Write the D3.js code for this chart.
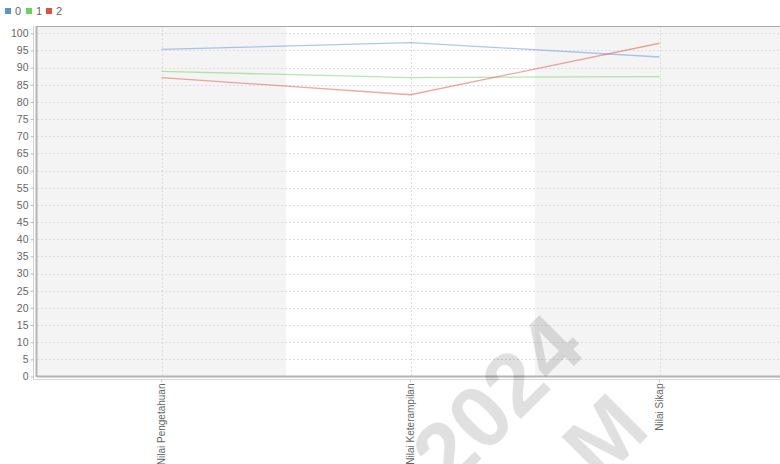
<!DOCTYPE html>
<html>
<head>
<meta charset="utf-8">
<script src="https://cdn.jsdelivr.net/npm/d3@7"></script>
<style>
  html, body { margin: 0; padding: 0; background: #fff; }
  svg { display: block; font-family: "Liberation Sans", Arial, sans-serif; }
</style>
</head>
<body>
<svg id="chart" width="780" height="464"></svg>
<script>
// Categories along the x axis
const categories = ["Nilai Pengetahuan", "Nilai Keterampilan", "Nilai Sikap"];
// Series names shown in the legend
const seriesNames = ["0", "1", "2"];
// Values per series, one per category
const series0 = [95.3, 97.3, 93.1];
const series1 = [88.9, 87.1, 87.4];
const series2 = [87.1, 82.1, 97.1];
// Y axis ticks
const yTicks = d3.range(0, 101, 5);

const allSeries = [series0, series1, series2];
const colors = ["#5a92da", "#6cd15e", "#e0513d"];

const svg = d3.select("#chart");
const plot = { left: 37, top: 26, right: 784, bottom: 376 };

const x = d3.scaleBand().domain(categories).range([plot.left, plot.right]).padding(0);
const y = d3.scaleLinear().domain([0, 100]).range([376.5, 33.3]);

// Legend
const legend = svg.append("g").attr("transform", "translate(5,6)");
const legX = [0, 21, 41];
seriesNames.forEach((n, i) => {
  const g = legend.append("g").attr("transform", `translate(${legX[i]},0)`);
  g.append("rect").attr("x", 0).attr("y", 2).attr("width", 6).attr("height", 6)
    .attr("fill", colors[i]);
  g.append("text").attr("x", 10).attr("y", 8.5).attr("font-size", 11)
    .attr("fill", "#666").text(n);
});

// Plot background with alternating category bands
svg.append("rect").attr("x", plot.left).attr("y", plot.top)
  .attr("width", plot.right - plot.left).attr("height", plot.bottom - plot.top)
  .attr("fill", "#fff");
svg.append("g").selectAll("rect").data(categories).join("rect")
  .attr("x", d => x(d)).attr("y", plot.top)
  .attr("width", x.bandwidth()).attr("height", plot.bottom - plot.top)
  .attr("fill", (d, i) => i % 2 === 0 ? "#f4f4f4" : "#ffffff");

// Horizontal gridlines
svg.append("g").selectAll("line").data(yTicks.filter(t => t > 0)).join("line")
  .attr("x1", plot.left).attr("x2", plot.right)
  .attr("y1", d => Math.round(y(d)) + 0.5).attr("y2", d => Math.round(y(d)) + 0.5)
  .attr("stroke", "#dcdcdc").attr("stroke-dasharray", "2,2").attr("stroke-width", 1);

// Vertical gridlines at category centres
svg.append("g").selectAll("line").data(categories).join("line")
  .attr("x1", d => Math.round(x(d) + x.bandwidth() / 2) + 0.5)
  .attr("x2", d => Math.round(x(d) + x.bandwidth() / 2) + 0.5)
  .attr("y1", plot.top).attr("y2", plot.bottom)
  .attr("stroke", "#dcdcdc").attr("stroke-dasharray", "2,2").attr("stroke-width", 1);

// Plot outline
svg.append("line").attr("x1", plot.left).attr("x2", plot.right)
  .attr("y1", plot.top + 0.5).attr("y2", plot.top + 0.5).attr("stroke", "#a8a8a8").attr("stroke-width", 1.2);
svg.append("line").attr("x1", plot.left - 0.5).attr("x2", plot.left - 0.5)
  .attr("y1", plot.top).attr("y2", plot.bottom + 1).attr("stroke", "#b4b4b4").attr("stroke-width", 2);
svg.append("line").attr("x1", plot.left).attr("x2", plot.right)
  .attr("y1", plot.bottom + 0.5).attr("y2", plot.bottom + 0.5).attr("stroke", "#b4b4b4").attr("stroke-width", 2);

// Series lines
const line = d3.line()
  .x((d, i) => x(categories[i]) + x.bandwidth() / 2)
  .y(d => y(d));
svg.append("g").selectAll("path").data(allSeries).join("path")
  .attr("d", d => line(d))
  .attr("fill", "none")
  .attr("stroke", (d, i) => colors[i])
  .attr("stroke-opacity", 0.5)
  .attr("stroke-width", 1.3);

// Y axis, offset from the plot outline
const yAxis = d3.axisLeft(y).tickValues(yTicks).tickSize(3).tickPadding(2);
const gy = svg.append("g").attr("transform", "translate(33.5,0)").call(yAxis);
gy.select(".domain").attr("stroke", "#d0d0d0").attr("d", `M0,${y(100) - 7}V${plot.bottom + 4}`);
gy.selectAll(".tick line").attr("stroke", "#bbb");
gy.selectAll(".tick text").attr("font-size", 10.5).attr("fill", "#666")
  .attr("font-family", "Liberation Sans, Arial, sans-serif");

// X axis, offset below the plot
const xAxis = d3.axisBottom(x).tickSize(3).tickPadding(2);
const gx = svg.append("g").attr("transform", `translate(0,${plot.bottom + 3.5})`).call(xAxis);
gx.select(".domain").attr("stroke", "#d8d8d8").attr("d", `M${plot.left - 4},0H${plot.right}`);
gx.selectAll(".tick line").attr("stroke", "#ccc");
gx.selectAll(".tick text")
  .attr("font-size", 10).attr("fill", "#666")
  .attr("font-family", "Liberation Sans, Arial, sans-serif")
  .attr("transform", "rotate(-90)")
  .attr("text-anchor", "end")
  .attr("x", -4).attr("y", 0).attr("dy", "0.35em");

// Watermark
const wm = svg.append("g").attr("fill", "#000").attr("fill-opacity", 0.12)
  .attr("font-family", "Liberation Sans, Arial, sans-serif").attr("font-weight", "bold");
wm.append("text").attr("transform", "translate(588,352) rotate(-45)")
  .attr("text-anchor", "end").attr("font-size", 88).text("2024");
wm.append("text").attr("transform", "translate(652,432) rotate(-45)")
  .attr("text-anchor", "end").attr("font-size", 88).text("M");
</script>
</body>
</html>
